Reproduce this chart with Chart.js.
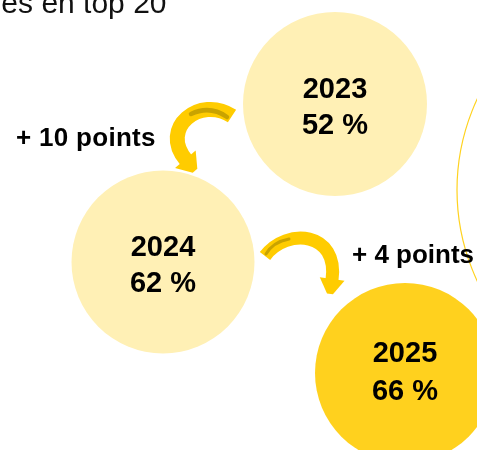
<!DOCTYPE html>
<html>
<head>
<meta charset="utf-8">
<script src="https://cdn.jsdelivr.net/npm/chart.js@4/dist/chart.umd.min.js"></script>
<style>
  html, body { margin: 0; padding: 0; background: #ffffff; }
  canvas { display: block; }
</style>
</head>
<body>
<canvas id="c" width="477" height="450"></canvas>
<script>
// ---- data ----
const years = ['2023', '2024', '2025'];
const shares = [52, 62, 66];
const gains = ['+ 10 points', '+ 4 points'];
const titleText = 'es en top 20';

// ---- layout (positions in scale units, radii in px) ----
const bubbleX = [335, 163, 405];
const bubbleY = [104, 262, 373];
const bubbleR = [92, 91.5, 90];
const labelTop = [-6, -6, -11];
const labelBottom = [30, 30, 27];
const ringX = [672];
const ringY = [190];
const ringR = [215];

// ---- styles ----
const fills = ['#FFF0B5', '#FFF0B5', '#FFD11E'];
const arrowColor = '#FFCC00';
const stripeColor = '#C9A300';

const bubbleData = years.map((y, i) => ({ x: bubbleX[i], y: bubbleY[i], r: bubbleR[i] }));
const ringData = ringX.map((x, i) => ({ x: x, y: ringY[i], r: ringR[i] }));

function drawArrow(ctx, p0, c1, c2, p3, w, headLen, headW) {
  ctx.save();
  ctx.strokeStyle = arrowColor;
  ctx.fillStyle = arrowColor;
  ctx.lineWidth = w;
  ctx.lineCap = 'butt';
  ctx.beginPath();
  ctx.moveTo(p0.x, p0.y);
  ctx.bezierCurveTo(c1.x, c1.y, c2.x, c2.y, p3.x, p3.y);
  ctx.stroke();
  let dx = p3.x - c2.x, dy = p3.y - c2.y;
  const L = Math.hypot(dx, dy); dx /= L; dy /= L;
  const nx = -dy, ny = dx;
  const bx = p3.x - dx * 1, by = p3.y - dy * 1;
  ctx.beginPath();
  ctx.moveTo(bx + nx * headW / 2, by + ny * headW / 2);
  ctx.lineTo(bx + dx * headLen + nx * 3, by + dy * headLen + ny * 3);
  ctx.lineTo(bx + dx * headLen - nx * 3, by + dy * headLen - ny * 3);
  ctx.lineTo(bx - nx * headW / 2, by - ny * headW / 2);
  ctx.closePath();
  ctx.fill();
  ctx.restore();
}

const overlay = {
  id: 'overlay',
  afterDatasetsDraw(chart) {
    const ctx = chart.ctx;
    const xs = chart.scales.x, ys = chart.scales.y;
    const P = i => ({ x: xs.getPixelForValue(bubbleX[i]), y: ys.getPixelForValue(bubbleY[i]) });
    const a = P(0), b = P(1);

    // arrow 2023 -> 2024
    drawArrow(ctx,
      { x: a.x - 103, y: a.y + 12 }, { x: a.x - 135, y: a.y - 9 },
      { x: a.x - 176, y: a.y + 24 }, { x: a.x - 149, y: a.y + 56 }, 15, 15, 27);
    // arrow 2024 -> 2025
    drawArrow(ctx,
      { x: b.x + 102, y: b.y - 6 }, { x: b.x + 124, y: b.y - 35 },
      { x: b.x + 176, y: b.y - 30 }, { x: b.x + 169, y: b.y + 18 }, 13, 15, 25);

    // darker inner stripes
    ctx.save();
    ctx.strokeStyle = stripeColor;
    ctx.lineCap = 'round';
    ctx.lineWidth = 4.5;
    ctx.beginPath();
    ctx.moveTo(a.x - 108, a.y + 13);
    ctx.quadraticCurveTo(a.x - 125, a.y + 1, a.x - 144, a.y + 10);
    ctx.stroke();
    ctx.lineWidth = 3;
    ctx.beginPath();
    ctx.moveTo(b.x + 103, b.y - 8);
    ctx.quadraticCurveTo(b.x + 110, b.y - 20, b.x + 126, b.y - 23);
    ctx.stroke();
    ctx.restore();

    ctx.save();
    ctx.fillStyle = '#000000';
    ctx.font = 'bold 29px "Liberation Sans", Arial, sans-serif';
    ctx.textAlign = 'center';
    ctx.textBaseline = 'alphabetic';
    years.forEach((yr, i) => {
      const p = P(i);
      ctx.fillText(yr, p.x, p.y + labelTop[i]);
      ctx.fillText(shares[i] + ' %', p.x, p.y + labelBottom[i]);
    });
    ctx.font = 'bold 26px "Liberation Sans", Arial, sans-serif';
    ctx.textAlign = 'left';
    ctx.letterSpacing = '0.3px';
    ctx.fillText(gains[0], a.x - 319, a.y + 42);
    ctx.letterSpacing = '0px';
    ctx.fillText(gains[1], b.x + 189, b.y + 1);
    ctx.fillStyle = '#111111';
    ctx.font = '30px "Liberation Sans", Arial, sans-serif';
    ctx.textAlign = 'right';
    ctx.fillText(titleText, 166.5, 13);
    ctx.restore();
  }
};

new Chart(document.getElementById('c'), {
  type: 'bubble',
  data: {
    datasets: [
      {
        data: ringData,
        backgroundColor: 'rgba(0,0,0,0)',
        borderColor: '#FFD21E',
        borderWidth: 1.2,
        clip: false
      },
      {
        data: bubbleData,
        backgroundColor: fills,
        borderWidth: 0,
        hoverBorderWidth: 0,
        clip: false
      }
    ]
  },
  options: {
    responsive: false,
    animation: false,
    animations: false,
    events: [],
    layout: { padding: 0, autoPadding: false },
    plugins: { legend: { display: false }, tooltip: { enabled: false } },
    scales: {
      x: { type: 'linear', min: 0, max: 477, display: false },
      y: { type: 'linear', min: 0, max: 450, reverse: true, display: false }
    }
  },
  plugins: [overlay]
});
</script>
</body>
</html>
